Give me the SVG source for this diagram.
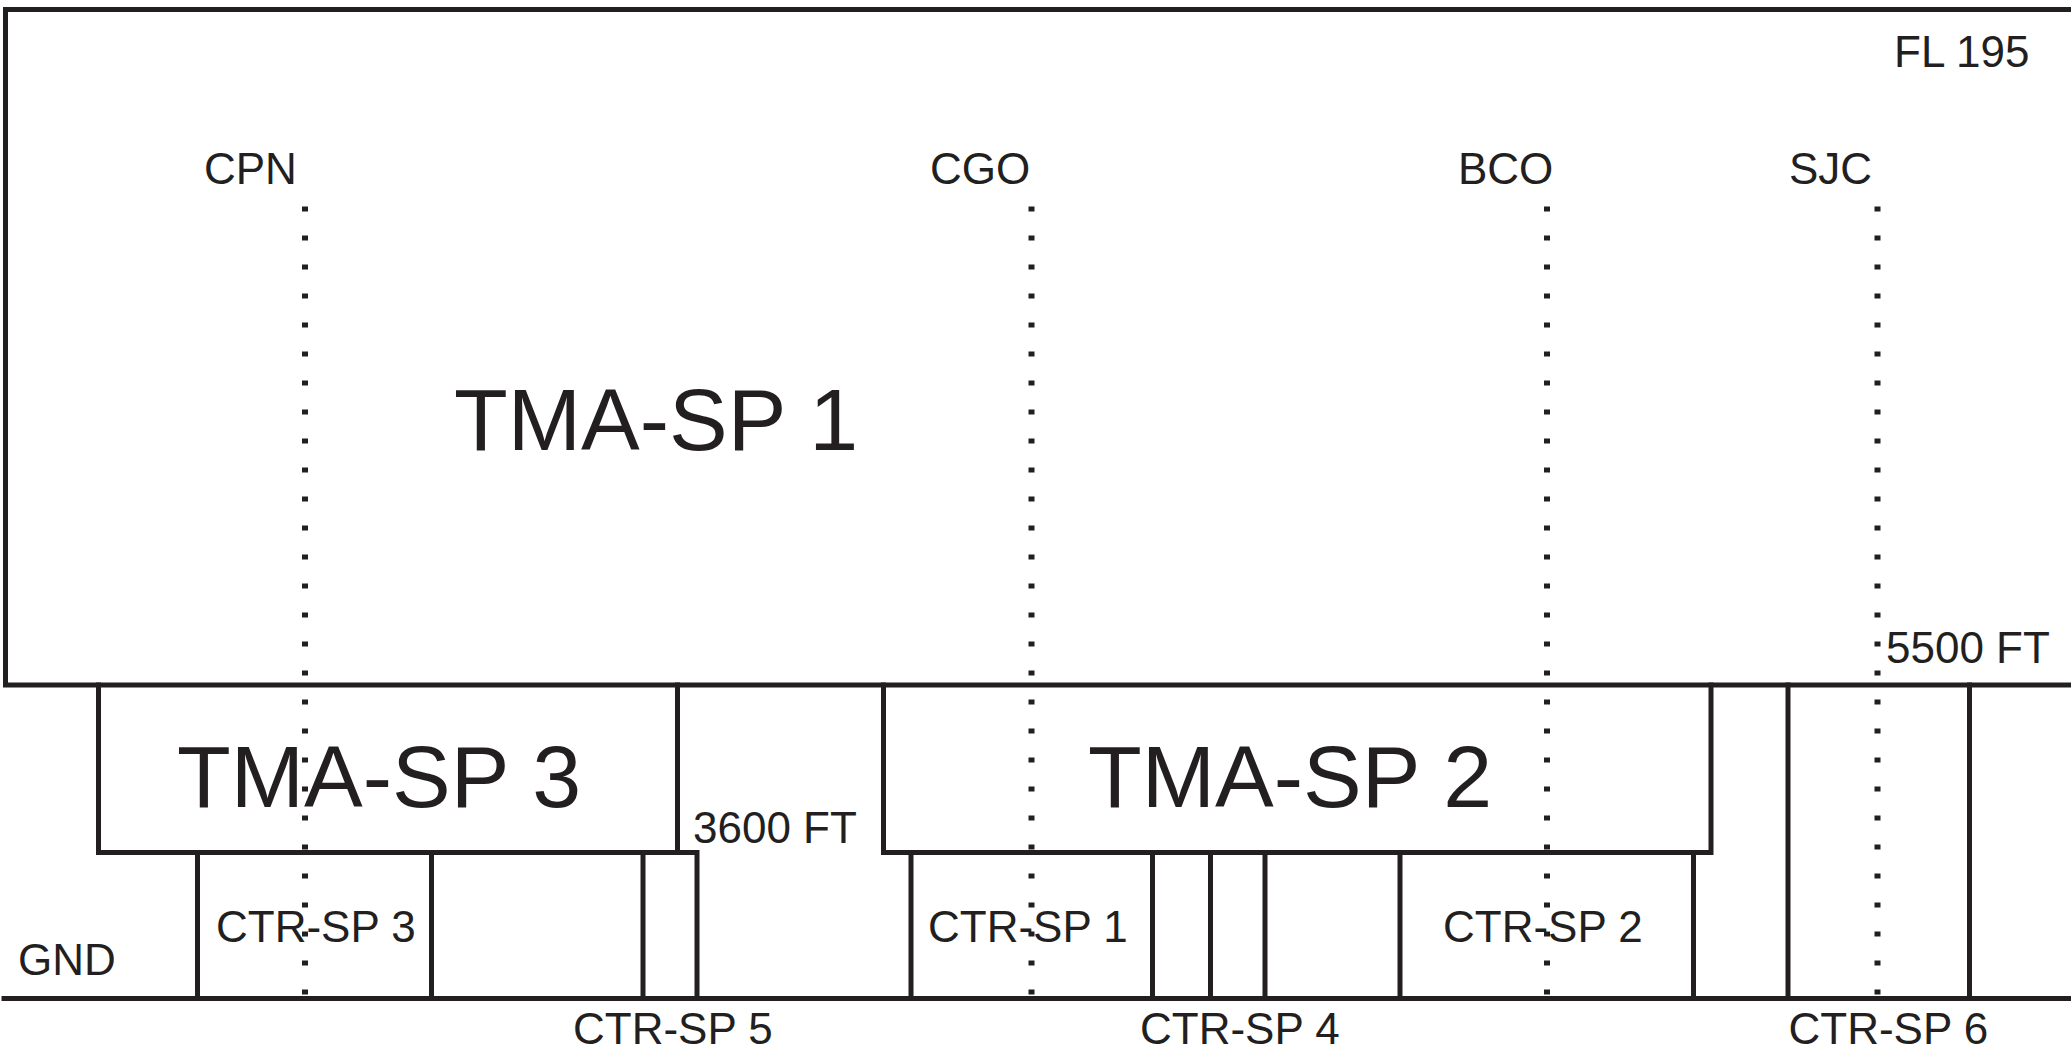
<svg xmlns="http://www.w3.org/2000/svg" width="2071" height="1050" viewBox="0 0 2071 1050">
  <style>
    .ln { fill: none; stroke: #231f20; stroke-width: 5; stroke-linejoin: miter; stroke-linecap: square; }
    .dot { fill: none; stroke: #231f20; stroke-width: 6; stroke-dasharray: 5 24; stroke-linecap: butt; }
    .lbl { font-family: "Liberation Sans", Arial, sans-serif; font-size: 44px; fill: #231f20; }
    .big { font-family: "Liberation Sans", Arial, sans-serif; font-size: 88px; fill: #231f20; }
  </style>
  <rect x="0" y="0" width="2071" height="1050" fill="#ffffff"/>

  <g id="tma-sp1">
    <path class="ln" d="M 2073 9.5 H 5.5 V 685 H 2073"/>
    <text class="big" x="454" y="450">TMA-SP 1</text>
    <text class="lbl" x="1894" y="67">FL 195</text>
    <text class="lbl" x="1886" y="663">5500 FT</text>
  </g>

  <g id="tma-sp3">
    <path class="ln" d="M 98.5 685 V 852.5 H 677.5 V 685"/>
    <text class="big" x="177" y="807">TMA-SP 3</text>
    <text class="lbl" x="693" y="843">3600 FT</text>
  </g>

  <g id="tma-sp2">
    <path class="ln" d="M 883.5 685 V 852.5 H 1711 V 685"/>
    <text class="big" x="1088" y="807">TMA-SP 2</text>
  </g>

  <g id="ctr-sp3">
    <path class="ln" d="M 197.5 998.5 V 852.5 M 431.5 852.5 V 998.5"/>
    <text class="lbl" x="216" y="942">CTR-SP 3</text>
  </g>

  <g id="ctr-sp5">
    <path class="ln" d="M 643 998.5 V 852.5 H 697 V 998.5"/>
    <text class="lbl" x="573" y="1044">CTR-SP 5</text>
  </g>

  <g id="ctr-sp1">
    <path class="ln" d="M 911 998.5 V 852.5 M 1152.5 852.5 V 998.5"/>
    <text class="lbl" x="928" y="942">CTR-SP 1</text>
  </g>

  <g id="ctr-sp4">
    <path class="ln" d="M 1210.5 852.5 V 998.5 M 1265 852.5 V 998.5"/>
    <text class="lbl" x="1140" y="1044">CTR-SP 4</text>
  </g>

  <g id="ctr-sp2">
    <path class="ln" d="M 1400 852.5 V 998.5 M 1693.5 852.5 V 998.5"/>
    <text class="lbl" x="1443" y="942">CTR-SP 2</text>
  </g>

  <g id="ctr-sp6">
    <path class="ln" d="M 1788 685 V 998.5 M 1969.5 685 V 998.5"/>
    <text class="lbl" x="1788.5" y="1044">CTR-SP 6</text>
  </g>

  <g id="ground">
    <path class="ln" d="M 4 998.5 H 2073"/>
    <text class="lbl" x="18" y="975">GND</text>
  </g>

  <g id="fixes">
    <text class="lbl" x="204" y="184">CPN</text>
    <text class="lbl" x="930" y="184">CGO</text>
    <text class="lbl" x="1458" y="184">BCO</text>
    <text class="lbl" x="1789" y="184">SJC</text>
  </g>

  <g id="connectors">
    <line class="dot" x1="305" y1="206.5" x2="305" y2="995"/>
    <line class="dot" x1="1031.5" y1="206.5" x2="1031.5" y2="995"/>
    <line class="dot" x1="1547" y1="206.5" x2="1547" y2="995"/>
    <line class="dot" x1="1877.5" y1="206.5" x2="1877.5" y2="995"/>
  </g>
</svg>
